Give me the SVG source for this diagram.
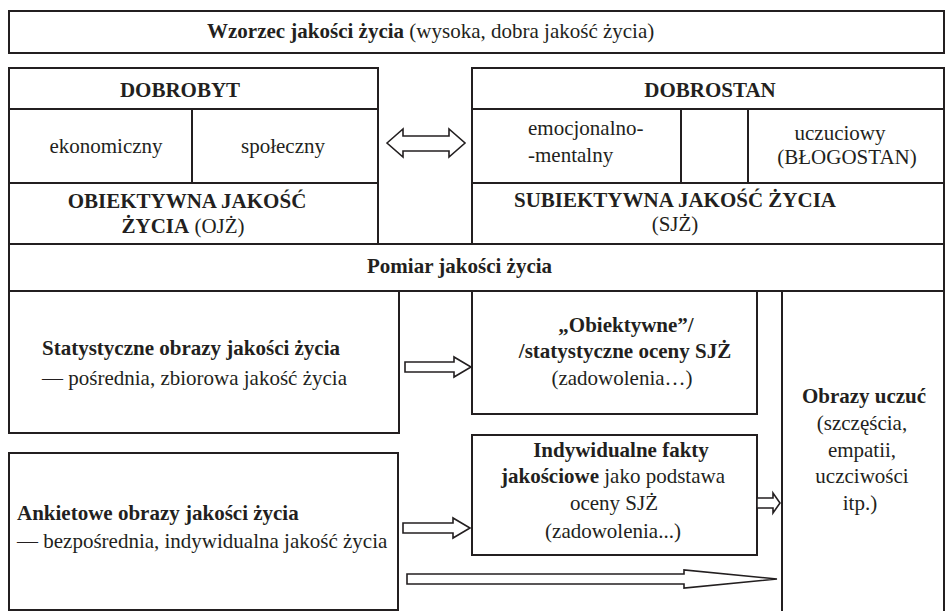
<svg xmlns="http://www.w3.org/2000/svg" width="946" height="611" viewBox="0 0 946 611">
<style>
.box{fill:#fff;stroke:#231f20;stroke-width:2}
.ln{fill:none;stroke:#231f20;stroke-width:2}
.ar{fill:#fff;stroke:#231f20;stroke-width:1.6;stroke-linejoin:miter}
text{font-family:"Liberation Serif","Times New Roman",serif;font-size:21px;fill:#231f20}
.b{font-weight:bold}
.c{text-anchor:middle}
</style>
<rect width="946" height="611" fill="#fff"/>
<g id="wzorzec">
<rect class="box" x="9" y="11" width="935" height="42"/>
<text x="207" y="38"><tspan class="b">Wzorzec jakości życia</tspan> (wysoka, dobra jakość życia)</text>
</g>
<g id="dobrobyt">
<rect class="box" x="9" y="68" width="369" height="176"/>
<line class="ln" x1="9" y1="109" x2="378" y2="109"/>
<line class="ln" x1="9" y1="183" x2="378" y2="183"/>
<line class="ln" x1="192" y1="109" x2="192" y2="183"/>
<text class="b c" x="180" y="97">DOBROBYT</text>
<text class="c" x="106" y="153">ekonomiczny</text>
<text class="c" x="283" y="153">społeczny</text>
<text class="b c" x="187" y="208">OBIEKTYWNA JAKOŚĆ</text>
<text class="c" x="183" y="233"><tspan class="b">ŻYCIA</tspan> (OJŻ)</text>
</g>
<g id="dobrostan">
<rect class="box" x="472" y="68" width="472" height="176"/>
<line class="ln" x1="472" y1="109" x2="944" y2="109"/>
<line class="ln" x1="472" y1="183" x2="944" y2="183"/>
<line class="ln" x1="681" y1="109" x2="681" y2="183"/>
<line class="ln" x1="748" y1="109" x2="748" y2="183"/>
<text class="b c" x="710" y="97">DOBROSTAN</text>
<text x="528" y="135">emocjonalno-</text>
<text x="528" y="162">-mentalny</text>
<text class="c" x="840" y="140">uczuciowy</text>
<text class="c" x="847" y="164">(BŁOGOSTAN)</text>
<text class="b c" x="675" y="207">SUBIEKTYWNA JAKOŚĆ ŻYCIA</text>
<text class="c" x="675" y="231">(SJŻ)</text>
</g>
<g id="pomiar">
<rect class="box" x="9" y="244" width="935" height="47"/>
<text class="b" x="367" y="273">Pomiar jakości życia</text>
</g>
<g id="statystyczne">
<rect class="box" x="9" y="291" width="390" height="142"/>
<text class="b" x="42" y="355">Statystyczne obrazy jakości życia</text>
<text x="42" y="385">— pośrednia, zbiorowa jakość życia</text>
</g>
<g id="obiektywne">
<rect class="box" x="472" y="291" width="285" height="123"/>
<text class="b c" x="626" y="332">„Obiektywne”/</text>
<text class="b c" x="625" y="358">/statystyczne oceny SJŻ</text>
<text class="c" x="622" y="385">(zadowolenia…)</text>
</g>
<g id="obrazy-uczuc">
<rect class="box" x="782" y="291" width="162" height="330"/>
<text class="b c" x="864" y="403">Obrazy uczuć</text>
<text class="c" x="862" y="430">(szczęścia,</text>
<text class="c" x="862" y="457">empatii,</text>
<text class="c" x="862" y="483">uczciwości</text>
<text class="c" x="860" y="510">itp.)</text>
</g>
<g id="ankietowe">
<rect class="box" x="9" y="453" width="389" height="157"/>
<text class="b" x="17" y="520">Ankietowe obrazy jakości życia</text>
<text x="17" y="548">— bezpośrednia, indywidualna jakość życia</text>
</g>
<g id="indywidualne">
<rect class="box" x="472" y="435" width="285" height="120"/>
<text class="b c" x="621" y="457">Indywidualne fakty</text>
<text class="c" x="613" y="483"><tspan class="b">jakościowe</tspan> jako podstawa</text>
<text class="c" x="614" y="510">oceny SJŻ</text>
<text class="c" x="613" y="538">(zadowolenia...)</text>
</g>
<g id="connectors">
<polygon class="ar" points="387,143 403,129 403,136 449,136 449,129 465,143 449,157 449,151 403,151 403,157"/>
<polygon class="ar" points="405,362 454,362 454,357 471,367 454,377 454,372 405,372"/>
<polygon class="ar" points="403,523 453,523 453,518 470,528 453,538 453,533 403,533"/>
<polygon class="ar" points="407,574 684,574 684,570 777,579 684,588 684,584 407,584"/>
<polygon class="ar" points="757,498 773,498 773,493 780,503 773,513 773,508 757,508"/>
</g>
</svg>
